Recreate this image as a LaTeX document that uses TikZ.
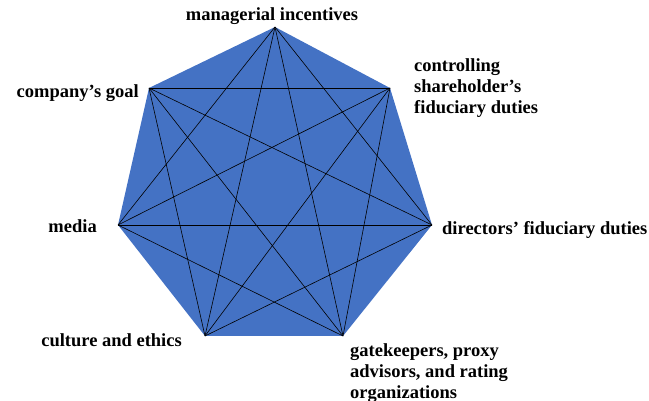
\documentclass[tikz,border=0pt]{standalone}
\usepackage{fontspec}
\setmainfont{Liberation Serif}
\definecolor{heptablue}{HTML}{4472C4}
\tikzset{
  lbl/.style={font=\fontsize{18.5}{21}\selectfont\bfseries, inner sep=0pt},
  diag/.style={draw=black, line width=0.6pt}
}
\begin{document}
\begin{tikzpicture}[x=1pt, y=-1pt]
\useasboundingbox (0,0) rectangle (649,401);

% Corners
\coordinate (mi) at (275,27);
\coordinate (cs) at (390,88);
\coordinate (dd) at (432,225);
\coordinate (gk) at (343,336);
\coordinate (ce) at (205,336);
\coordinate (me) at (118,225);
\coordinate (cg) at (149,88);

% Heptagon
\fill [heptablue] (mi) -- (cs) -- (dd) -- (gk) -- (ce) -- (me) -- (cg) -- cycle;

% Diagonals
\foreach \a/\b in {mi/dd, mi/gk, mi/ce, mi/me,
                   cs/gk, cs/ce, cs/me, cs/cg,
                   dd/ce, dd/me, dd/cg,
                   gk/me, gk/cg,
                   ce/cg}
  \draw [diag] (\a) -- (\b);

% Labels
\node [lbl, anchor=base] (lmi) at (272,21) {managerial incentives};
\node [lbl, anchor=north west, align=left] (lcs) at (414,58) {controlling\\shareholder’s\\fiduciary duties};
\node [lbl, anchor=base east] (lcg) at (139,98) {company’s goal};
\node [lbl, anchor=base east] (lme) at (97,233) {media};
\node [lbl, anchor=base west] (ldd) at (442,235) {directors’ fiduciary duties};
\node [lbl, anchor=base east] (lce) at (182,346) {culture and ethics};
\node [lbl, anchor=north west, align=left] (lgk) at (350,343) {gatekeepers, proxy\\advisors, and rating\\organizations};
\end{tikzpicture}
\end{document}
